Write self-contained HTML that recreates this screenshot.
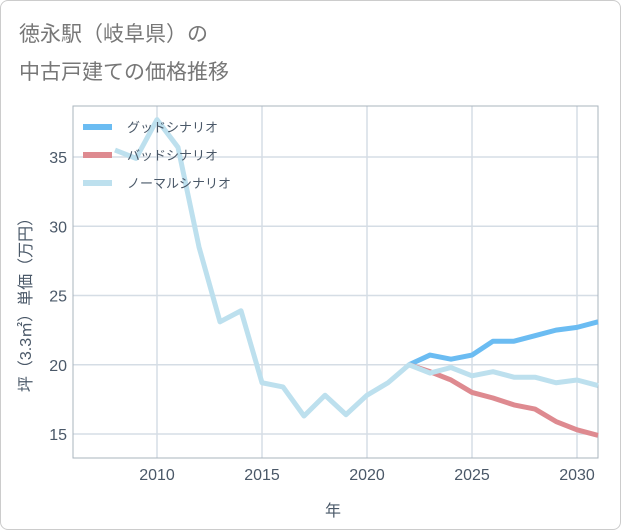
<!DOCTYPE html>
<html><head><meta charset="utf-8"><style>
body{margin:0;background:#fff;font-family:"Liberation Sans","Noto Sans CJK JP",sans-serif}
#wrap{position:relative;width:619px;height:528px;border:1px solid #ccc;border-radius:8px;overflow:hidden}
</style></head><body>
<div id="wrap">
<svg id="c" width="621" height="530">
<text x="18" y="40" font-size="21" fill="#777">徳永駅（岐阜県）の</text>
<text x="18" y="78" font-size="21" fill="#777">中古戸建ての価格推移</text>
<g id="grid"></g><g id="lines"></g>
<g id="legend"></g>
<text x="332" y="515" font-size="16" fill="#4a5868" text-anchor="middle">年</text>
<text transform="translate(30,300) rotate(-90)" font-size="16" fill="#4a5868" text-anchor="middle">坪（3.3㎡）単価（万円）</text>
</svg></div>
<script>
const xTicks=[2010,2015,2020,2025,2030];
const yTicks=[15,20,25,30,35];
const normalYears=[2008,2009,2010,2011,2012,2013,2014,2015,2016,2017,2018,2019,2020,2021,2022,2023,2024,2025,2026,2027,2028,2029,2030,2031];
const normalVals=[35.5,34.9,37.7,35.7,28.5,23.1,23.9,18.7,18.4,16.3,17.8,16.4,17.8,18.7,20,19.4,19.8,19.2,19.5,19.1,19.1,18.7,18.9,18.5];
const futureYears=[2022,2023,2024,2025,2026,2027,2028,2029,2030,2031];
const goodVals=[20,20.7,20.4,20.7,21.7,21.7,22.1,22.5,22.7,23.1];
const badVals=[20,19.5,18.9,18.0,17.6,17.1,16.8,15.9,15.3,14.9];
const X0=72,X1=597,Y0=105,Y1=457;
const xs=y=>X0+(y-2006)*(X1-X0)/25;
const ys=v=>433-(v-15)*13.85;
const NS='http://www.w3.org/2000/svg';
function mk(t,a,p){const e=document.createElementNS(NS,t);for(const k in a)e.setAttribute(k,a[k]);p.appendChild(e);return e;}
const g=document.getElementById('grid');
xTicks.forEach(t=>{const l=mk('line',{x1:xs(t),x2:xs(t),y1:Y0,y2:Y1,stroke:'#d5dde5','stroke-width':1.5},g);


const tx=mk('text',{x:xs(t),y:479,'font-size':16,fill:'#4a5868','text-anchor':'middle'},g);tx.textContent=t;

});
yTicks.forEach(t=>{const l=mk('line',{x1:X0,x2:X1,y1:ys(t),y2:ys(t),stroke:'#d5dde5','stroke-width':1.5},g);


const tx=mk('text',{x:66,y:ys(t)+6,'font-size':16,fill:'#4a5868','text-anchor':'end'},g);tx.textContent=t;

});
const fr=mk('rect',{x:X0,y:Y0,width:X1-X0,height:Y1-Y0,fill:'none',stroke:'#aab4be','stroke-width':1},g);


const L=document.getElementById('lines');
function line(yr,v,c,n){const p=mk('polyline',{points:yr.map((y,i)=>xs(y)+','+ys(v[i])).join(' '),fill:'none',stroke:c,'stroke-width':5,'stroke-linejoin':'round'},L);

}
line(futureYears,goodVals,'#6bbcf2','good-scenario-line');
line(futureYears,badVals,'#de8a90','bad-scenario-line');
line(normalYears,normalVals,'#bde0ee','normal-scenario-line');
const lg=document.getElementById('legend');
[['グッドシナリオ','#6bbcf2'],['バッドシナリオ','#de8a90'],['ノーマルシナリオ','#bde0ee']].forEach((d,i)=>{
const y=126+i*28;
const s=mk('line',{x1:82,x2:111,y1:y,y2:y,stroke:d[1],'stroke-width':6},lg);


const t=mk('text',{x:126,y:y+5,'font-size':13,fill:'#4a5868'},lg);t.textContent=d[0];

});
</script></body></html>
